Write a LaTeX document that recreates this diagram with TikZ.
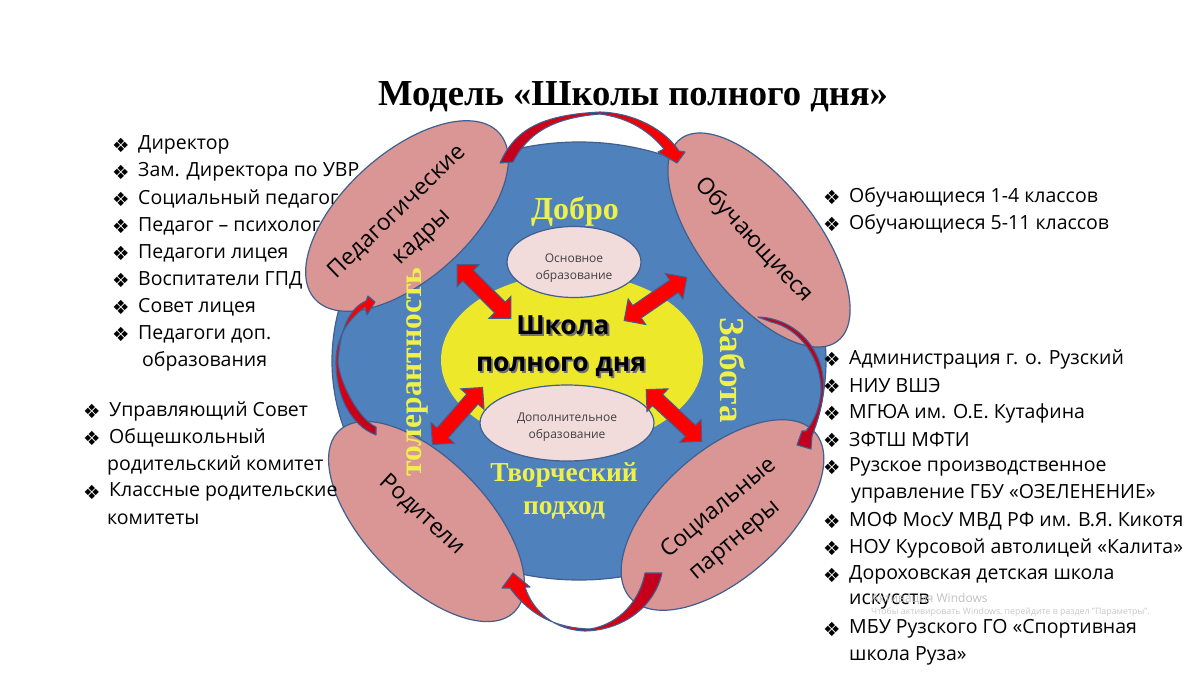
\documentclass[tikz,border=0pt]{standalone}
\usepackage{fontspec}
\setmainfont{Open Sans}
\newfontfamily\titlefont{Liberation Serif}
\newfontfamily\dejavu{DejaVu Sans}
\usetikzlibrary{shapes.geometric, shapes.arrows}
\definecolor{discblue}{HTML}{4F81BD}
\definecolor{edgeblue}{HTML}{3F5F8F}
\definecolor{petal}{HTML}{D99694}
\definecolor{palepink}{HTML}{F2DCDB}
\definecolor{core}{HTML}{EEE82A}
\definecolor{wordyellow}{HTML}{F0F04A}
\definecolor{darkred}{HTML}{C0001E}

\begin{document}
\begin{tikzpicture}[x=1pt, y=-1pt,
    petalnode/.style={ellipse, draw=edgeblue, line width=1.2pt, fill=petal, minimum width=248pt,
      minimum height=126pt, inner sep=0pt},
    petaltext/.style={align=center, inner sep=0pt, font=\fontsize{23}{35}\selectfont},
    innernode/.style={ellipse, draw=edgeblue, line width=1.2pt, fill=palepink, inner sep=0pt, align=center,
      text=black!75, font=\fontsize{12}{17}\selectfont},
    biarrow/.style={double arrow, draw=edgeblue, fill=red, line width=1pt, minimum height=76pt,
      inner xsep=0pt, inner ysep=7pt, double arrow head extend=8pt},
    crescent/.style={draw=edgeblue, line width=1.1pt, line join=round},
    word/.style={text=wordyellow, font=\titlefont\bfseries\fontsize{32}{36}\selectfont},
    corefont/.style={font=\bfseries\fontsize{26.3}{31}\selectfont},
    item/.style={itemcont, label={[bullet]left:\dejavu\char"2756}},
    itemcont/.style={anchor=west, inner sep=0pt, yshift=-2pt, font=\fontsize{19.5}{23}\selectfont},
    bullet/.style={inner sep=0pt, outer sep=0pt, xshift=-8.5pt, font=\fontsize{19.5}{20}\selectfont}]

  \useasboundingbox (0,0) rectangle (1200,675);

  \node[ellipse, draw=edgeblue, line width=1.2pt, fill=discblue, minimum width=494pt, minimum height=438pt, inner sep=0pt] (disc) at (579,361) {};
  \node[ellipse, fill=core, minimum width=262pt, minimum height=172pt, inner sep=0pt] (school) at (572,360) {};
  \node[innernode, minimum width=134pt, minimum height=71pt] (basic) at (574,262) {\rule{0pt}{20pt}Основное\\образование};
  \node[innernode, minimum width=174pt, minimum height=76pt] (extra) at (567,423) {\rule{0pt}{16pt}Дополнительное\\образование};

  \node[petalnode, rotate=42] (staff) at (407,216) {};
  \node[petalnode, rotate=-52, minimum width=256pt, minimum height=116pt] (pupils) at (759,240) {};
  \node[petalnode, rotate=42] (partners) at (722.5,515) {};
  \node[petalnode, rotate=-46, minimum width=252pt, minimum height=122pt] (parents) at (426.5,521.5) {};

  \node[petaltext, rotate=44] (stafftext) at (410,225) {Педагогические\\кадры};
  \node[petaltext, rotate=-47] (pupilstext) at (753.5,240) {Обучающиеся};
  \node[petaltext, rotate=40] (partnerstext) at (724,527) {\hspace{16pt}Социальные\\партнеры\hspace{16pt}};
  \node[petaltext, rotate=-43] (parentstext) at (422,515) {Родители};

  % double arrows
  \node[biarrow, rotate=-45] (arrowA) at (484,291.5) {};
  \node[biarrow, rotate=34.5] (arrowB) at (655.5,299) {};
  \node[biarrow, rotate=48.7] (arrowC) at (457.5,416) {};
  \node[biarrow, rotate=-43] (arrowD) at (674,415.5) {};

  % curved arrows between the petals
  \coordinate (topTail) at (500,163);
  \coordinate (topTip) at (677,163);
  \draw[crescent, left color=darkred, right color=red] (topTail) .. controls (515,130) and (540,115) .. (600,112)
    .. controls (635,113) and (665,130) .. (679,151) -- (685,152) -- (topTip) -- (658,152) -- (664,149)
    .. controls (650,132) and (630,118) .. (600,114)
    .. controls (550,118) and (527,135) .. (513,162) -- cycle;
  \coordinate (rightTail) at (758,317);
  \coordinate (rightTip) at (797,445);
  \draw[crescent, fill=darkred] (rightTail) .. controls (795,318) and (828,350) .. (823,395)
    .. controls (821,412) and (816,425) .. (812,436) -- (811,449) -- (rightTip) -- (802,431) -- (806,431)
    .. controls (815,420) and (820,405) .. (821,392)
    .. controls (822,360) and (800,328) .. (771,322) -- cycle;
  \coordinate (lowTail) at (645,573);
  \coordinate (lowTip) at (513,573);
  \draw[crescent, left color=red, right color=darkred] (lowTail) -- (662,573) .. controls (655,605) and (625,630) .. (585,631)
    .. controls (555,630) and (533,612) .. (525,587) -- (530,587) -- (lowTip) -- (502,588) -- (510,588)
    .. controls (530,615) and (555,628) .. (590,629) .. controls (620,624) and (640,600) .. (lowTail);
  \coordinate (leftTail) at (376,435);
  \coordinate (leftTip) at (375,302);
  \draw[crescent, top color=red, bottom color=darkred] (leftTail) .. controls (350,425) and (336,395) .. (336,362)
    .. controls (336,340) and (345,322) .. (365,307) -- (367,315) -- (leftTip) -- (368,296) -- (366,301)
    .. controls (350,308) and (340,328) .. (338,362)
    .. controls (340,385) and (360,420) .. (376,427) -- cycle;

  \node[word] (kindness) at (575,211) {Добро};
  \node[word, rotate=-90, font=\titlefont\bfseries\fontsize{35}{36}\selectfont] (care) at (733,370) {Забота};
  \node[word, rotate=90, font=\titlefont\bfseries\fontsize{31.5}{36}\selectfont] (tolerance) at (417,372) {толерантность};
  \node[word, align=center, font=\titlefont\bfseries\fontsize{27.4}{33}\selectfont] (creative) at (564,491) {Творческий\\подход};

  \node[corefont, text=black!55, xshift=1.8pt, yshift=-1.8pt] (schoolshadowA) at (563,325) {Школа};
  \node[corefont, text=black!55, xshift=1.8pt, yshift=-1.8pt] (schoolshadowB) at (561,367) {полного дня};
  \node[corefont] (schoolA) at (563,325) {Школа};
  \node[corefont] (schoolB) at (561,367) {полного дня};

  \node[font=\titlefont\bfseries\fontsize{36.6}{40}\selectfont] (title) at (633,97) {Модель «Школы полного дня»};

  \foreach \ypos/\txt [count=\i] in {143/Директор, 170/Зам. Директора по УВР, 197/Социальный педагог,
      224/Педагог – психолог, 251/Педагоги лицея, 278/Воспитатели ГПД, 305/Совет лицея, 332/Педагоги доп.}
    \node[item] (staffitem\i) at (138,\ypos) {\txt};
  \node[itemcont] (staffitemcont) at (142,359) {образования};

  \foreach \ypos/\txt [count=\i] in {409/Управляющий Совет, 436/Общешкольный, 490/Классные родительские}
    \node[item] (parentitem\i) at (109,\ypos) {\txt};
  \node[itemcont] (parentcontA) at (107,463) {родительский комитет};
  \node[itemcont] (parentcontB) at (107,517) {комитеты};

  \foreach \ypos/\txt [count=\i] in {195/Обучающиеся 1-4 классов, 222/Обучающиеся 5-11 классов}
    \node[item] (pupilitem\i) at (849,\ypos) {\txt};

  \foreach \ypos/\txt [count=\i] in {357/Администрация г. о. Рузский, 384/НИУ ВШЭ, 411/МГЮА им. О.Е. Кутафина,
      438/ЗФТШ МФТИ, 465/Рузское производственное, 519/МОФ МосУ МВД РФ им. В.Я. Кикотя,
      546/НОУ Курсовой автолицей «Калита», 573/Дороховская детская школа, 627/МБУ Рузского ГО «Спортивная}
    \node[item] (partneritem\i) at (849,\ypos) {\txt};
  \node[itemcont] (partnercontA) at (851,492) {управление ГБУ «ОЗЕЛЕНЕНИЕ»};
  \node[itemcont] (partnercontB) at (849,600) {искусств};
  \node[itemcont] (partnercontC) at (849,654) {школа Руза»};

  \node[anchor=west, inner sep=0pt, text=black!25, font=\fontsize{12}{13}\selectfont] (markA) at (871,599) {Активация Windows};
  \node[anchor=west, inner sep=0pt, text=black!22, font=\fontsize{8.8}{10}\selectfont] (markB) at (871,612) {Чтобы активировать Windows, перейдите в раздел "Параметры".};
\end{tikzpicture}
\end{document}
